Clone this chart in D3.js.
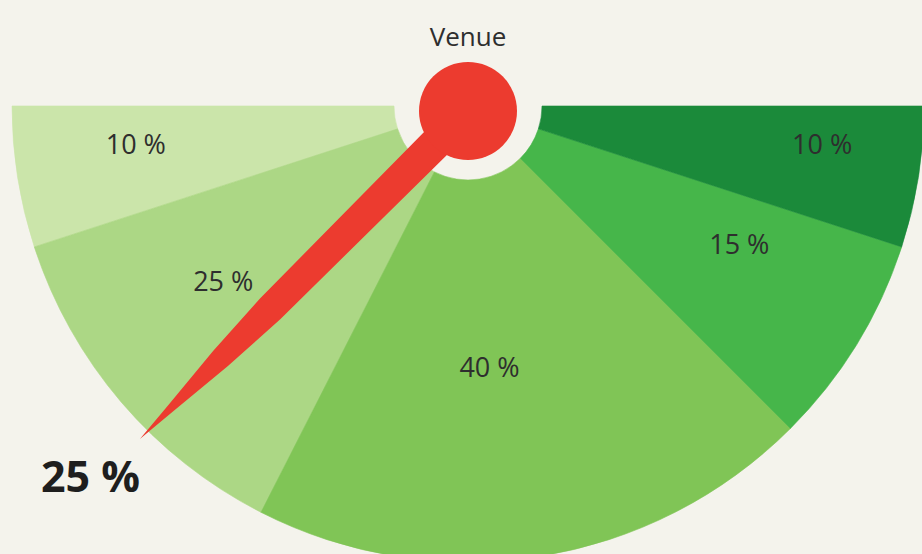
<!DOCTYPE html>
<html>
<head>
<meta charset="utf-8">
<script src="https://cdn.jsdelivr.net/npm/d3@7"></script>
<style>
  html, body { margin: 0; padding: 0; background: #f4f3ec; }
  svg { display: block; font-family: 'Open Sans', 'Noto Sans', sans-serif; }
</style>
</head>
<body>
<svg id="chart" width="922" height="554"></svg>
<script>
// gauge data
const title = 'Venue';
const shares = [10, 25, 40, 15, 10];
const sliceColors = ['#cbe5aa', '#acd785', '#80c556', '#46b64a', '#1b8a3a'];
const needleValue = 25;

const width = 922;
const height = 554;
const cx = 468;
const cy = 106;
const outerR = 456;
const innerR = 74;

const svg = d3.select('#chart');

svg.append('rect')
  .attr('width', width)
  .attr('height', height)
  .attr('fill', '#f4f3ec');

// left (3pi/2) round through the bottom to the right (pi/2)
const angle = d3.scaleLinear().domain([0, 100]).range([1.5 * Math.PI, 0.5 * Math.PI]);

const pie = d3.pie()
  .sort(null)
  .startAngle(angle(0))
  .endAngle(angle(100));

const arc = d3.arc().innerRadius(innerR).outerRadius(outerR);
const labelArc = d3.arc().innerRadius(310).outerRadius(310);

const g = svg.append('g').attr('transform', `translate(${cx},${cy})`);

const slices = pie(shares);

g.selectAll('path.slice')
  .data(slices)
  .join('path')
  .attr('class', 'slice')
  .attr('d', arc)
  .attr('fill', (d, i) => sliceColors[i])
  .attr('stroke', (d, i) => sliceColors[i])
  .attr('stroke-width', 0.6);

// small nudges so labels sit where the original has them
const labelNudge = [[-26, -10], [-9, -26], [-27, -45], [7, -23], [48, -10]];

g.selectAll('text.pct')
  .data(slices)
  .join('text')
  .attr('class', 'pct')
  .attr('x', (d, i) => labelArc.centroid(d)[0] + labelNudge[i][0])
  .attr('y', (d, i) => labelArc.centroid(d)[1] + labelNudge[i][1])
  .attr('dy', '0.35em')
  .attr('text-anchor', 'middle')
  .attr('font-size', 27)
  .attr('fill', '#2e2e2e')
  .text((d) => d.data + ' %');

// needle: along the value angle, half-widths taper towards the tip
const a = angle(needleValue);
const hubX = 0;
const hubY = 5;
const len = outerR + 8;
const ux = Math.sin(a);
const uy = -Math.cos(a);
const px = -uy;
const py = ux;
const profile = [[0, 16.5], [280, 14.5], [350, 10.5], [420, 4], [len, 0]];
const side1 = profile.map(([r, w]) => [hubX + ux * r + px * w, hubY + uy * r + py * w]);
const side2 = profile.slice(0, -1).reverse().map(([r, w]) => [hubX + ux * r - px * w, hubY + uy * r - py * w]);

g.append('path')
  .attr('d', d3.line()(side1.concat(side2)) + 'Z')
  .attr('fill', '#ec3b2f');

g.append('circle')
  .attr('cx', hubX)
  .attr('cy', hubY)
  .attr('r', 49)
  .attr('fill', '#ec3b2f');

svg.append('text')
  .attr('x', cx)
  .attr('y', 46)
  .attr('text-anchor', 'middle')
  .attr('font-size', 26)
  .attr('fill', '#2e2e2e')
  .text(title);

svg.append('text')
  .attr('x', 41)
  .attr('y', 492)
  .attr('font-size', 43)
  .attr('font-weight', 700)
  .attr('fill', '#1e1e1e')
  .text(needleValue + ' %');
</script>
</body>
</html>
